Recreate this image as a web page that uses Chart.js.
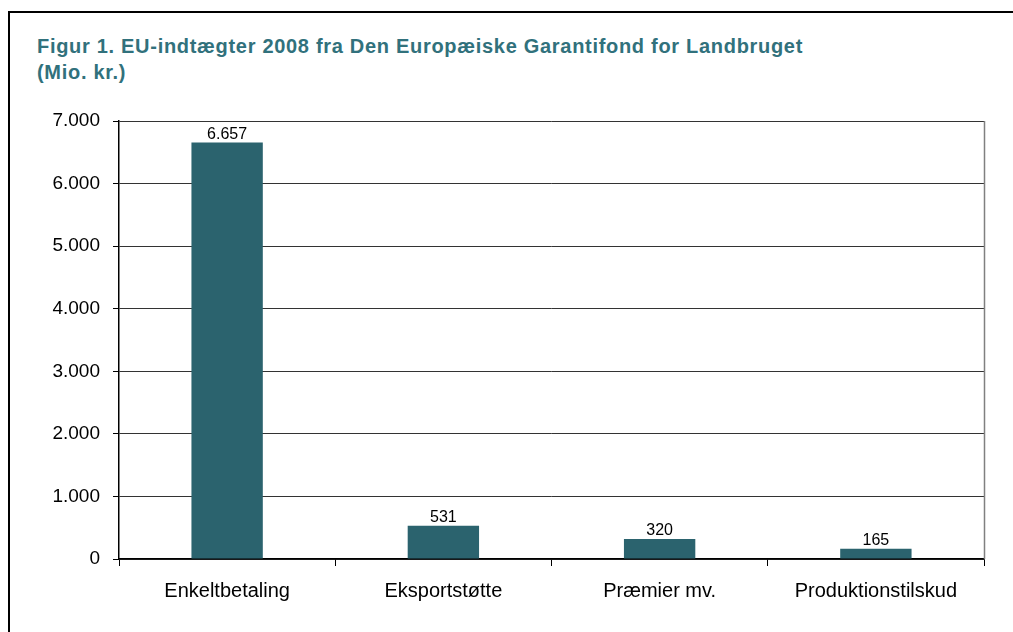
<!DOCTYPE html>
<html>
<head>
<meta charset="utf-8">
<script src="https://cdn.jsdelivr.net/npm/chart.js@4/dist/chart.umd.min.js"></script>
<style>
    html, body { margin: 0; padding: 0; background: #fff; }
    #wrap { position: relative; width: 1013px; height: 632px; overflow: hidden; }
    #frame { position: absolute; left: 8px; top: 11px; width: 1100px; height: 700px; border: 2px solid #000; box-sizing: border-box; }
    #title { position: absolute; left: 37px; top: 33px; font: bold 20px "Liberation Sans", Arial, sans-serif; letter-spacing: 0.7px; color: #31717c; line-height: 26px; }
    canvas { position: absolute; left: 0; top: 0; }
</style>
</head>
<body>
<div id="wrap">
    <div id="frame"></div>
    <div id="title">Figur 1. EU-indtægter 2008 fra Den Europæiske Garantifond for Landbruget<br>(Mio. kr.)</div>
    <canvas id="chart" width="1013" height="632"></canvas>
</div>
<script>
const categories = ['Enkeltbetaling', 'Eksportstøtte', 'Præmier mv.', 'Produktionstilskud'];
const values = [6657, 531, 320, 165];
const yTicks = [0, 1000, 2000, 3000, 4000, 5000, 6000, 7000];

function fmt(n) {
    return String(n).replace(/\B(?=(\d{3})+(?!\d))/g, '.');
}

const font = '"Liberation Sans", Arial, sans-serif';

// value labels above bars + grey right edge of the plot area
const extras = {
    id: 'extras',
    afterDatasetsDraw(chart) {
        const { ctx, chartArea } = chart;
        ctx.save();
        ctx.strokeStyle = '#808080';
        ctx.lineWidth = 1.5;
        ctx.beginPath();
        ctx.moveTo(chartArea.right + 0.5, chartArea.top);
        ctx.lineTo(chartArea.right + 0.5, chartArea.bottom);
        ctx.stroke();

        ctx.fillStyle = '#000';
        ctx.font = '16px ' + font;
        ctx.textAlign = 'center';
        ctx.textBaseline = 'bottom';
        chart.getDatasetMeta(0).data.forEach((bar, i) => {
            ctx.fillText(fmt(values[i]), bar.x, bar.y);
        });
        ctx.restore();
    },
};

new Chart(document.getElementById('chart'), {
    type: 'bar',
    data: {
        labels: categories,
        datasets: [{
            data: values,
            backgroundColor: '#2b636e',
            barPercentage: 0.66,
            categoryPercentage: 0.5,
        }],
    },
    options: {
        responsive: false,
        animation: false,
        layout: { padding: { top: 121, right: 29, left: 0, bottom: 0 } },
        plugins: {
            legend: { display: false },
            tooltip: { enabled: false },
        },
        scales: {
            y: {
                min: 0,
                max: 7000,
                afterFit: (scale) => { scale.width = 119; },
                afterBuildTicks: (scale) => { scale.ticks = yTicks.map((v) => ({ value: v })); },
                ticks: {
                    color: '#000',
                    font: { family: font, size: 19 },
                    padding: 13,
                    callback: (v) => fmt(v),
                },
                grid: { color: '#333', lineWidth: 1, tickLength: 6, tickColor: '#000' },
                border: { color: '#000', width: 1.5 },
            },
            x: {
                afterFit: (scale) => { scale.height = 73; },
                ticks: {
                    color: '#000',
                    font: { family: font, size: 20 },
                    padding: 13,
                },
                grid: { offset: true, drawOnChartArea: false, tickLength: 7, color: '#000', lineWidth: 1 },
                border: { color: '#000', width: 1.5 },
            },
        },
    },
    plugins: [extras],
});
</script>
</body>
</html>
